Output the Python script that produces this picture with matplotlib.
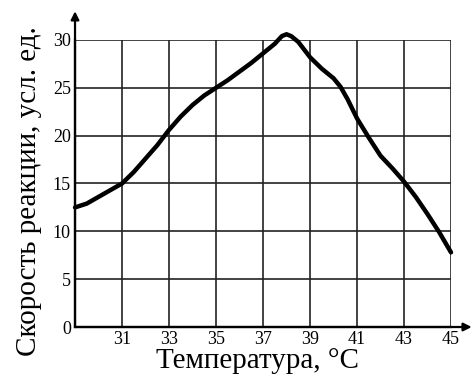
import matplotlib.pyplot as plt

plt.rcParams['font.family'] = ['Liberation Serif', 'DejaVu Serif']

# temperature, deg C and reaction rate, arb. units
temps = [29.0, 29.5, 30.0, 30.5, 31.0, 31.5, 32.0, 32.5, 33.0, 33.5, 34.0, 34.5,
         35.0, 35.5, 36.0, 36.5, 37.0, 37.5, 37.8, 38.0, 38.2, 38.5, 39.0, 39.5,
         40.0, 40.3, 40.6, 41.0, 41.5, 42.0, 42.5, 43.0, 43.5, 44.0, 44.5, 45.0]
rate = [12.5, 12.9, 13.6, 14.3, 15.0, 16.2, 17.6, 19.0, 20.6, 22.0, 23.2, 24.2,
        25.0, 25.8, 26.7, 27.6, 28.6, 29.6, 30.4, 30.6, 30.4, 29.8, 28.2, 27.0,
        26.0, 25.1, 23.8, 21.8, 19.8, 17.9, 16.6, 15.2, 13.6, 11.8, 9.9, 7.8]

xticks = [31, 33, 35, 37, 39, 41, 43, 45]
yticks = [0, 5, 10, 15, 20, 25, 30]

fig = plt.figure(figsize=(4.73, 3.83), dpi=100)
ax = fig.add_axes([0.1586, 0.1462, 0.7949, 0.7494])

ax.set_xlim(29, 45)
ax.set_ylim(0, 30)
ax.set_xticks(xticks)
ax.set_yticks(yticks)
ax.grid(True, color='#222222', linewidth=1.2)
ax.tick_params(length=0, labelsize=13, pad=3)

for side in ['top', 'right']:
    ax.spines[side].set_visible(False)
for side in ['left', 'bottom']:
    ax.spines[side].set_linewidth(1.6)

ax.plot(temps, rate, color='black', linewidth=3.2, solid_capstyle='round',
        solid_joinstyle='round', clip_on=False, zorder=5)

# axis arrows beyond the grid
ax.annotate('', xy=(1.055, 0), xytext=(0, 0), xycoords='axes fraction',
            arrowprops=dict(arrowstyle='-|>', color='black', lw=1.6,
                            mutation_scale=12, shrinkA=0, shrinkB=0))
ax.annotate('', xy=(0, 1.1), xytext=(0, 0), xycoords='axes fraction',
            arrowprops=dict(arrowstyle='-|>', color='black', lw=1.6,
                            mutation_scale=12, shrinkA=0, shrinkB=0))

fig.text(0.545, 0.058, 'Температура, °C', fontsize=21, ha='center', va='center')
fig.text(0.062, 0.5, 'Скорость реакции, усл. ед.', fontsize=21,
         rotation=90, ha='center', va='center')

fig.savefig('out.png', dpi=100)
